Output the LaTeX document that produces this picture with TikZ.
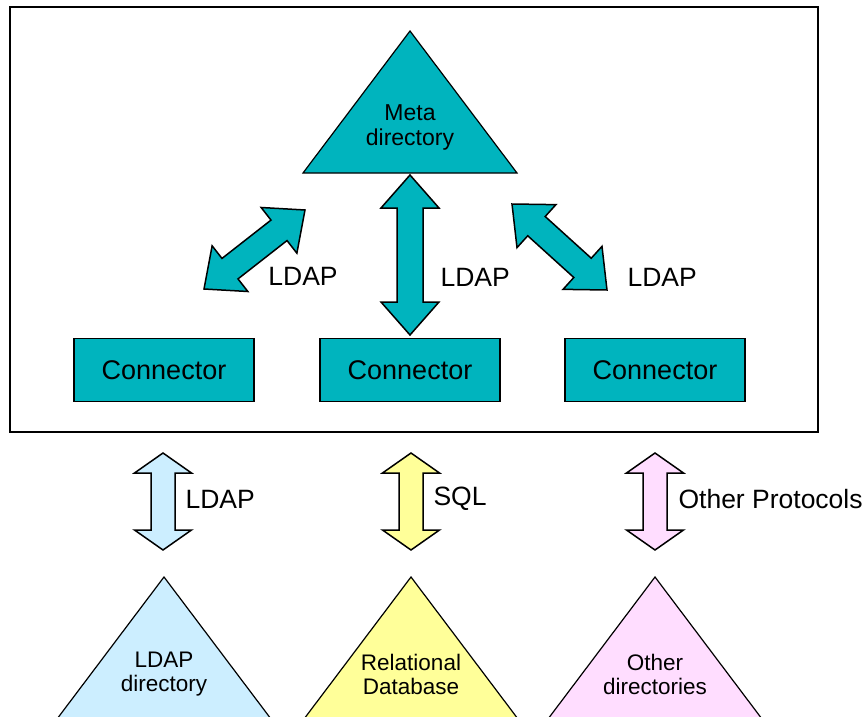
\documentclass[tikz,border=0pt]{standalone}
\usepackage{fontspec}
\setmainfont{Liberation Sans}
\usetikzlibrary{calc}
\definecolor{metateal}{RGB}{0,180,190}
\definecolor{ldapblue}{RGB}{204,238,255}
\definecolor{sqlyellow}{RGB}{255,255,153}
\definecolor{otherpink}{RGB}{255,221,255}
\def\fatarrow[#1](#2)(#3)(#4:#5:#6){\draw[#1] (#2) -- ($(#2)!#6!(#3)!#4!90:(#3)$) -- ($(#2)!#6!(#3)!#5!90:(#3)$) -- ($(#3)!#6!(#2)!#5!-90:(#2)$) -- ($(#3)!#6!(#2)!#4!-90:(#2)$) -- (#3) -- ($(#3)!#6!(#2)!#4!90:(#2)$) -- ($(#3)!#6!(#2)!#5!90:(#2)$) -- ($(#2)!#6!(#3)!#5!-90:(#3)$) -- ($(#2)!#6!(#3)!#4!-90:(#3)$) -- cycle;}

\begin{document}
\begin{tikzpicture}[x=1pt, y=-1pt,
	conbox/.style={draw, fill=metateal, line width=1.5pt, minimum width=180pt, minimum height=63pt, inner sep=0pt, font=\fontsize{27}{30}\selectfont},
	tri/.style={draw, line width=1.2pt, line join=miter},
	tritext/.style={align=center, font=\fontsize{22.5}{24}\selectfont},
	proto/.style={font=\fontsize{26.5}{30}\selectfont},
	fat/.style={draw, line width=1.5pt, line join=miter}]
	%%%%% START %%%%%
	\useasboundingbox (0,0) rectangle (863,717);
	
	\draw[line width=2.2pt] (10, 7) rectangle (818, 432);
	
	\draw[tri, fill=metateal] (410, 31) -- (517, 173) -- (303, 173) -- cycle;
	\node[tritext, font=\fontsize{23}{25}\selectfont] (meta) at (410, 127) {Meta\\directory};
	
	\node[conbox] (conn1) at (164, 370) {Connector};
	\node[conbox] (conn2) at (410, 370) {Connector};
	\node[conbox] (conn3) at (655, 370) {Connector};
	
	\coordinate (l-top) at (305, 210);
	\coordinate (l-bot) at (204, 289);
	\coordinate (m-top) at (410, 175);
	\coordinate (m-bot) at (410, 335);
	\coordinate (r-top) at (512, 204);
	\coordinate (r-bot) at (607, 290);
	\fatarrow[fat, fill=metateal](l-bot)(l-top)(29pt:13pt:33pt)
	\fatarrow[fat, fill=metateal](m-top)(m-bot)(29pt:13pt:33pt)
	\fatarrow[fat, fill=metateal](r-top)(r-bot)(29pt:13pt:33pt)
	\node[proto] (lab1) at (303, 276) {LDAP};
	\node[proto, anchor=west] (lab2) at (437, 277) {LDAP};
	\node[proto, anchor=west] (lab3) at (624, 277) {LDAP};
	
	% sources below the frame
	\draw[tri, fill=ldapblue] (164, 577) -- (271, 719) -- (57, 719) -- cycle;
	\node[tritext] (ldapdir) at (164, 674) {LDAP\\directory};
	\draw[tri, fill=sqlyellow] (411, 577) -- (518, 719) -- (304, 719) -- cycle;
	\node[tritext] (reldb) at (411, 674) {Relational\\Database};
	\draw[tri, fill=otherpink] (655, 577) -- (762, 719) -- (548, 719) -- cycle;
	\node[tritext] (otherdir) at (655, 674) {Other\\directories};
	
	\coordinate (a-top) at (163, 453);
	\coordinate (a-bot) at (163, 550);
	\coordinate (b-top) at (411, 453);
	\coordinate (b-bot) at (411, 550);
	\coordinate (c-top) at (655, 453);
	\coordinate (c-bot) at (655, 550);
	\fatarrow[fat, fill=ldapblue](a-top)(a-bot)(28.5pt:12pt:20pt)
	\fatarrow[fat, fill=sqlyellow](b-top)(b-bot)(28.5pt:12pt:20pt)
	\fatarrow[fat, fill=otherpink](c-top)(c-bot)(28.5pt:12pt:20pt)
	\node[proto, anchor=west] (lab4) at (182, 499) {LDAP};
	\node[proto, anchor=west] (lab5) at (430, 499) {SQL};
	\node[proto, anchor=west] (lab6) at (675, 499) {Other Protocols};
	
	%%%%% END %%%%%
\end{tikzpicture}
\end{document}
